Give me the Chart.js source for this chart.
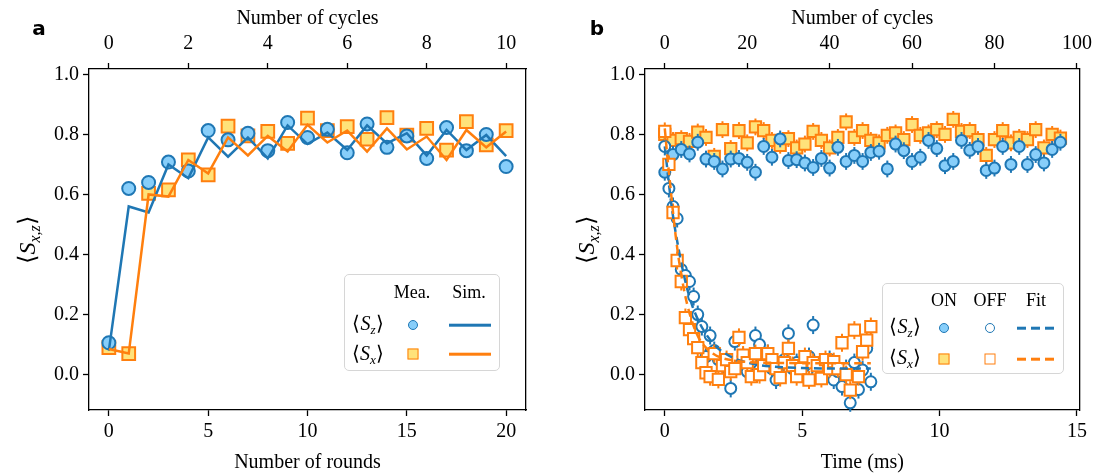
<!DOCTYPE html>
<html>
<head>
<meta charset="utf-8">
<script src="https://cdn.jsdelivr.net/npm/chart.js@4.4.1/dist/chart.umd.min.js"></script>
<style>
  body { margin: 0; background: #fff; }
  #wrap { position: relative; width: 1099px; height: 475px; font-family: 'Liberation Serif', 'Times New Roman', serif; }
  canvas { position: absolute; top: 0; }
  .abs { position: absolute; transform: translate(-50%, -50%); white-space: nowrap; line-height: 1; }
  .panel { font-family: 'DejaVu Sans', sans-serif; font-weight: bold; font-size: 20px; }
  .ylab { font-size: 24px; transform: translate(-50%, -50%) rotate(-90deg); }
  .ylab sub, .lg sub { font-size: 0.66em; font-style: italic; vertical-align: -0.3em; }
  .lg { font-size: 18px; }
  .lg.m { font-size: 20px; }
  .box { position: absolute; border: 1.5px solid #d6d6d6; border-radius: 5px; background: rgba(255,255,255,0.85); }
  .circ { width: 10px; height: 10px; border-radius: 50%; box-sizing: border-box; border: 1.8px solid #1f77b4; }
  .sq { width: 11px; height: 11px; box-sizing: border-box; border: 1.8px solid #ff7f0e; }
  .ln { height: 2.6px; width: 42px; transform: translate(0, -50%); }
</style>
</head>
<body>
<div id="wrap">
  <canvas id="left" width="549" height="475" style="left:0"></canvas>
  <canvas id="right" width="550" height="475" style="left:549px"></canvas>

  <div class="abs panel" style="left:39px; top:28px">a</div>
  <div class="abs panel" style="left:597px; top:28px">b</div>

  <div class="abs ylab" style="left:29px; top:240px">⟨<i>S</i><sub>x,z</sub>⟩</div>
  <div class="abs ylab" style="left:588px; top:240px">⟨<i>S</i><sub>x,z</sub>⟩</div>

  <!-- legend a -->
  <div class="box" style="left:344px; top:274px; width:154px; height:95px"></div>
  <div class="abs lg" style="left:412px; top:292px">Mea.</div>
  <div class="abs lg" style="left:469px; top:292px">Sim.</div>
  <div class="abs lg m" style="left:368px; top:325px">⟨<i>S</i><sub>z</sub>⟩</div>
  <div class="abs lg m" style="left:368px; top:355px">⟨<i>S</i><sub>x</sub>⟩</div>
  <div class="abs circ" style="left:413px; top:325px; background:#87cefa"></div>
  <div class="abs sq" style="left:413px; top:354px; background:#ffe27a"></div>
  <div class="ln" style="position:absolute; left:449px; top:325px; background:#1f77b4"></div>
  <div class="ln" style="position:absolute; left:449px; top:354px; background:#ff7f0e"></div>

  <!-- legend b -->
  <div class="box" style="left:882px; top:283px; width:180px; height:89px"></div>
  <div class="abs lg" style="left:944px; top:300px">ON</div>
  <div class="abs lg" style="left:990px; top:300px">OFF</div>
  <div class="abs lg" style="left:1036px; top:300px">Fit</div>
  <div class="abs lg m" style="left:905px; top:328px">⟨<i>S</i><sub>z</sub>⟩</div>
  <div class="abs lg m" style="left:905px; top:359px">⟨<i>S</i><sub>x</sub>⟩</div>
  <div class="abs circ" style="left:944px; top:328px; background:#87cefa"></div>
  <div class="abs circ" style="left:990px; top:328px; background:#fff"></div>
  <div class="abs sq" style="left:944px; top:359px; background:#ffe27a"></div>
  <div class="abs sq" style="left:990px; top:359px; background:#fff"></div>
  <div class="ln" style="position:absolute; left:1017px; top:328px; width:38px; background:repeating-linear-gradient(to right, #1f77b4 0 9px, transparent 9px 14px)"></div>
  <div class="ln" style="position:absolute; left:1017px; top:359px; width:38px; background:repeating-linear-gradient(to right, #ff7f0e 0 9px, transparent 9px 14px)"></div>
</div>

<script>
// ---- panel a: repeated rounds ----
const rounds = [0, 1, 2, 3, 4, 5, 6, 7, 8, 9, 10, 11, 12, 13, 14, 15, 16, 17, 18, 19, 20];
const szMea = [0.106, 0.62, 0.64, 0.708, 0.678, 0.813, 0.782, 0.804, 0.746, 0.84, 0.79, 0.817, 0.739, 0.835, 0.757, 0.795, 0.72, 0.823, 0.746, 0.80, 0.693];
const szSim = [0.08, 0.56, 0.54, 0.70, 0.654, 0.79, 0.726, 0.79, 0.72, 0.83, 0.768, 0.806, 0.748, 0.83, 0.77, 0.804, 0.73, 0.815, 0.748, 0.798, 0.728];
const sxMea = [0.09, 0.07, 0.604, 0.615, 0.715, 0.665, 0.828, 0.795, 0.81, 0.77, 0.854, 0.813, 0.826, 0.784, 0.856, 0.798, 0.82, 0.748, 0.843, 0.765, 0.813];
const sxSim = [0.085, 0.07, 0.60, 0.593, 0.715, 0.67, 0.79, 0.73, 0.795, 0.743, 0.832, 0.773, 0.813, 0.743, 0.82, 0.75, 0.793, 0.715, 0.815, 0.757, 0.81];
const roundTicks = [0, 5, 10, 15, 20];
const cycleTicksA = [0, 2, 4, 6, 8, 10];

// ---- panel b: decay with feedback ON / OFF ----
const tOn = [0, 0.3, 0.6, 0.9, 1.2, 1.5, 1.8, 2.1, 2.4, 2.7, 3.0, 3.3, 3.6, 3.9, 4.2, 4.5, 4.8, 5.1, 5.4, 5.7,
  6.0, 6.3, 6.6, 6.9, 7.2, 7.5, 7.8, 8.1, 8.4, 8.7, 9.0, 9.3, 9.6, 9.9, 10.2, 10.5, 10.8, 11.1, 11.4, 11.7,
  12.0, 12.3, 12.6, 12.9, 13.2, 13.5, 13.8, 14.1, 14.4];
const szOn = [0.674, 0.733, 0.75, 0.735, 0.774, 0.718, 0.71, 0.685, 0.718, 0.72, 0.707, 0.674, 0.76, 0.724, 0.785, 0.713, 0.716, 0.705, 0.69, 0.72,
  0.688, 0.757, 0.71, 0.73, 0.71, 0.74, 0.744, 0.685, 0.768, 0.746, 0.71, 0.724, 0.78, 0.753, 0.696, 0.71, 0.78, 0.747, 0.76, 0.68,
  0.688, 0.76, 0.70, 0.76, 0.70, 0.733, 0.705, 0.75, 0.774];
const sxOn = [0.80, 0.78, 0.786, 0.777, 0.808, 0.79, 0.727, 0.816, 0.753, 0.813, 0.772, 0.825, 0.813, 0.78, 0.764, 0.786, 0.755, 0.768, 0.81, 0.78,
  0.755, 0.79, 0.842, 0.79, 0.813, 0.78, 0.772, 0.797, 0.805, 0.783, 0.833, 0.797, 0.805, 0.816, 0.80, 0.85, 0.81, 0.813, 0.783, 0.73,
  0.783, 0.813, 0.772, 0.79, 0.783, 0.816, 0.755, 0.80, 0.788];
const tOff = [0, 0.15, 0.3, 0.45, 0.6, 0.75, 0.9, 1.05, 1.2, 1.35, 1.5, 1.65, 1.8, 1.95, 2.1, 2.25, 2.4, 2.55, 2.7, 2.85,
  3.0, 3.15, 3.3, 3.45, 3.6, 3.75, 3.9, 4.05, 4.2, 4.35, 4.5, 4.65, 4.8, 4.95, 5.1, 5.25, 5.4, 5.55, 5.7, 5.85,
  6.0, 6.15, 6.3, 6.45, 6.6, 6.75, 6.9, 7.05, 7.2, 7.35, 7.5];
const szOff = [0.76, 0.62, 0.56, 0.52, 0.35, 0.33, 0.31, 0.26, 0.20, 0.16, 0.06, 0.13, 0.08, 0.05, 0.04, 0.02, -0.046, 0.11, 0.03, 0.06,
  0.01, 0.04, 0.13, 0.10, 0.03, 0.07, 0.02, -0.018, 0.0, 0.05, 0.137, 0.02, 0.04, 0.01, 0.03, 0.06, 0.165, 0.0, 0.03, 0.02,
  0.05, -0.018, 0.01, -0.04, 0.02, -0.094, 0.04, -0.05, 0.015, 0.087, -0.024];
const sxOff = [0.81, 0.70, 0.54, 0.38, 0.31, 0.19, 0.15, 0.12, 0.09, 0.04, 0.006, -0.007, 0.07, -0.016, 0.03, 0.05, 0.01, 0.02, 0.124, 0.065,
  0.04, -0.007, 0.07, 0.0, 0.03, 0.07, 0.05, 0.02, -0.01, 0.04, 0.087, 0.03, -0.007, 0.02, 0.06, -0.018, 0.04, 0.03, -0.013, 0.05,
  0.02, 0.043, 0.02, 0.106, 0.0, -0.052, 0.148, -0.007, 0.076, 0.115, 0.16];
const tFitZ = [0, 0.25, 0.5, 0.75, 1.0, 1.25, 1.5, 1.75, 2.0, 2.5, 3.0, 3.5, 4.0, 5.0, 6.0, 7.5];
const szFit = [0.76, 0.56, 0.42, 0.31, 0.23, 0.175, 0.135, 0.105, 0.083, 0.055, 0.04, 0.031, 0.026, 0.022, 0.02, 0.02];
const tFitX = [0, 0.1, 0.2, 0.3, 0.4, 0.5, 0.75, 1.0, 1.25, 1.5, 1.75, 2.0, 2.5, 3.0, 4.0, 5.0, 7.5];
const sxFit = [0.82, 0.72, 0.63, 0.54, 0.46, 0.39, 0.26, 0.175, 0.12, 0.09, 0.07, 0.058, 0.047, 0.042, 0.039, 0.038, 0.038];
const errOn = 0.028, errOff = 0.03;
const timeTicks = [0, 5, 10, 15];
const cycleTicksB = [0, 20, 40, 60, 80, 100];
const yTicks = [0.0, 0.2, 0.4, 0.6, 0.8, 1.0];

const blue = '#1f77b4', orange = '#ff7f0e', lightBlue = '#87cefa', yellow = '#ffe27a';

Chart.defaults.font.family = "'Liberation Serif', 'Times New Roman', serif";
Chart.defaults.font.size = 20;
Chart.defaults.color = '#000';

const pts = (xs, ys) => xs.map((x, i) => ({ x: x, y: ys[i] }));

const errorBars = {
  id: 'errorBars',
  beforeDatasetDraw(chart, args) {
    const ds = chart.data.datasets[args.index];
    if (!ds.err) return;
    const ctx = chart.ctx, ys = chart.scales.y;
    ctx.save();
    ctx.strokeStyle = ds.borderColor;
    ctx.lineWidth = 2;
    args.meta.data.forEach((p, i) => {
      const v = ds.data[i].y;
      ctx.beginPath();
      ctx.moveTo(p.x, ys.getPixelForValue(v - ds.err));
      ctx.lineTo(p.x, ys.getPixelForValue(v + ds.err));
      ctx.stroke();
    });
    ctx.restore();
  }
};

function axis(pos, min, max, ticks, size, title, fmt) {
  const horiz = pos === 'top' || pos === 'bottom';
  const top = pos === 'top';
  return {
    type: 'linear', position: pos, min: min, max: max,
    afterBuildTicks: s => { s.ticks = ticks.map(v => ({ value: v })); },
    afterFit: s => { if (horiz) s.height = size; else s.width = size; },
    ticks: { padding: top ? 7 : 4, maxRotation: 0, autoSkip: false, callback: fmt || (v => String(v)) },
    grid: { drawOnChartArea: false, drawTicks: true, tickLength: 6, tickColor: '#000', tickWidth: 1.3 },
    border: { display: true, color: '#000', width: 1.3 },
    title: title ? { display: true, text: title, padding: top ? { top: 7, bottom: 0 } : { top: 2, bottom: 0 } } : { display: false }
  };
}

function rightSpine(w) {
  return {
    type: 'linear', position: 'right', min: -0.118, max: 1.018,
    afterFit: s => { s.width = w; },
    ticks: { display: false },
    grid: { display: false },
    border: { display: true, color: '#000', width: 1.3 }
  };
}

const common = {
  responsive: false,
  animation: false,
  layout: { padding: 0 },
  plugins: { legend: { display: false }, tooltip: { enabled: false } }
};

new Chart(document.getElementById('left'), {
  type: 'scatter',
  data: {
    datasets: [
      { data: pts(rounds, szSim), showLine: true, borderColor: blue, borderWidth: 2.5, pointRadius: 0, order: 1 },
      { data: pts(rounds, sxSim), showLine: true, borderColor: orange, borderWidth: 2.5, pointRadius: 0, order: 0 },
      { data: pts(rounds, szMea), pointStyle: 'circle', pointRadius: 6.5, backgroundColor: lightBlue, borderColor: blue, borderWidth: 2, order: 2 },
      { data: pts(rounds, sxMea), pointStyle: 'rect', pointRadius: 9, backgroundColor: yellow, borderColor: orange, borderWidth: 2, order: 3 }
    ]
  },
  options: Object.assign({}, common, {
    scales: {
      x: axis('bottom', -1, 21, roundTicks, 65, 'Number of rounds'),
      x2: axis('top', -0.5, 10.5, cycleTicksA, 69, 'Number of cycles'),
      y: axis('left', -0.118, 1.018, yTicks, 89, null, v => v.toFixed(1)),
      y2: rightSpine(23)
    }
  })
});

new Chart(document.getElementById('right'), {
  type: 'scatter',
  data: {
    datasets: [
      { data: pts(tFitZ, szFit), showLine: true, borderColor: blue, borderWidth: 2.5, borderDash: [8, 5], pointRadius: 0, cubicInterpolationMode: 'monotone', order: 1 },
      { data: pts(tFitX, sxFit), showLine: true, borderColor: orange, borderWidth: 2.5, borderDash: [8, 5], pointRadius: 0, cubicInterpolationMode: 'monotone', order: 0 },
      { data: pts(tOff, sxOff), err: errOff, pointStyle: 'rect', pointRadius: 8, backgroundColor: '#fff', borderColor: orange, borderWidth: 2, order: 2 },
      { data: pts(tOff, szOff), err: errOff, pointStyle: 'circle', pointRadius: 5.5, backgroundColor: '#fff', borderColor: blue, borderWidth: 2, order: 3 },
      { data: pts(tOn, szOn), err: errOn, pointStyle: 'circle', pointRadius: 5.5, backgroundColor: lightBlue, borderColor: blue, borderWidth: 2, order: 4 },
      { data: pts(tOn, sxOn), err: errOn, pointStyle: 'rect', pointRadius: 8, backgroundColor: yellow, borderColor: orange, borderWidth: 2, order: 5 }
    ]
  },
  options: Object.assign({}, common, {
    scales: {
      x: axis('bottom', -0.72, 15.1, timeTicks, 65, 'Time (ms)'),
      x2: axis('top', -4.8, 100.67, cycleTicksB, 69, 'Number of cycles'),
      y: axis('left', -0.118, 1.018, yTicks, 96, null, v => v.toFixed(1)),
      y2: rightSpine(18)
    }
  }),
  plugins: [errorBars]
});
</script>
</body>
</html>
